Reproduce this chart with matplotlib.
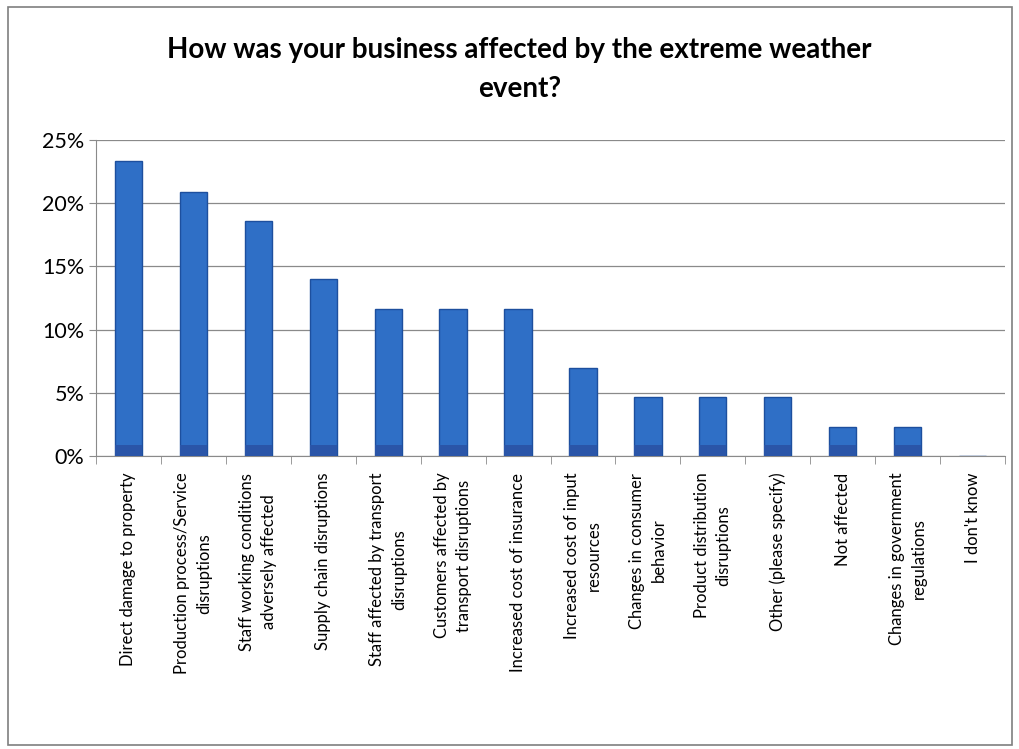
import matplotlib.pyplot as plt
import numpy as np
from matplotlib.patches import Rectangle

plt.rcParams['font.family'] = ['Lato', 'DejaVu Sans']

labels = ["Direct damage to property",
          "Production process/Service\ndisruptions",
          "Staff working conditions\nadversely affected",
          "Supply chain disruptions",
          "Staff affected by transport\ndisruptions",
          "Customers affected by\ntransport disruptions",
          "Increased cost of insurance",
          "Increased cost of input\nresources",
          "Changes in consumer\nbehavior",
          "Product distribution\ndisruptions",
          "Other (please specify)",
          "Not affected",
          "Changes in government\nregulations",
          "I don't know"]
values = [23.3, 20.9, 18.6, 14.0, 11.6, 11.6, 11.6, 7.0, 4.7, 4.7, 4.7, 2.3, 2.3, 0.0]

fig = plt.figure(figsize=(10.19, 7.49), dpi=100)
ax = fig.add_axes([96 / 1019, 1 - 456 / 749, (1005 - 96) / 1019, (456 - 140) / 749])

x = np.arange(len(values))
ax.bar(x, values, width=0.42, color="#2f6fc6", edgecolor="#1d4f9e", linewidth=1.0, zorder=3)
# darker band at the bottom of each bar
ax.bar(x, [min(v, 0.9) for v in values], width=0.42, color="#2a55a8", linewidth=0, zorder=4)

ax.set_xlim(-0.5, len(values) - 0.5)
ax.set_ylim(0, 25)
ax.set_yticks(np.arange(0, 26, 5))
ax.set_yticklabels([f"{v}%" for v in range(0, 26, 5)], fontsize=15.5)
ax.grid(axis="y", color="#8a8a8a", linewidth=0.9, zorder=0)

ax.set_xticks(x)
ax.set_xticklabels(labels, rotation=90, fontsize=12, ha="center", va="top",
                   multialignment="center", linespacing=1.45)
ax.tick_params(axis="x", length=0, pad=12)
ax.set_xticks(np.arange(-0.5, len(values), 1), minor=True)
ax.tick_params(axis="x", which="minor", length=6, color="#8a8a8a")
ax.tick_params(axis="y", length=5, color="#8a8a8a")

for s in ["top", "right"]:
    ax.spines[s].set_visible(False)
ax.spines["left"].set_color("#8a8a8a")
ax.spines["bottom"].set_color("#8a8a8a")

fig.text(0.51, 1 - 50 / 749, "How was your business affected by the extreme weather", ha="center", va="center",
         fontsize=20, fontweight="bold")
fig.text(0.51, 1 - 89 / 749, "event?", ha="center", va="center", fontsize=20, fontweight="bold")

fig.patches.append(Rectangle((8 / 1019, 4 / 749), 1004 / 1019, 738 / 749, transform=fig.transFigure,
                             fill=False, edgecolor="#7f7f7f", linewidth=1.2))

fig.savefig("out.png", dpi=100)
